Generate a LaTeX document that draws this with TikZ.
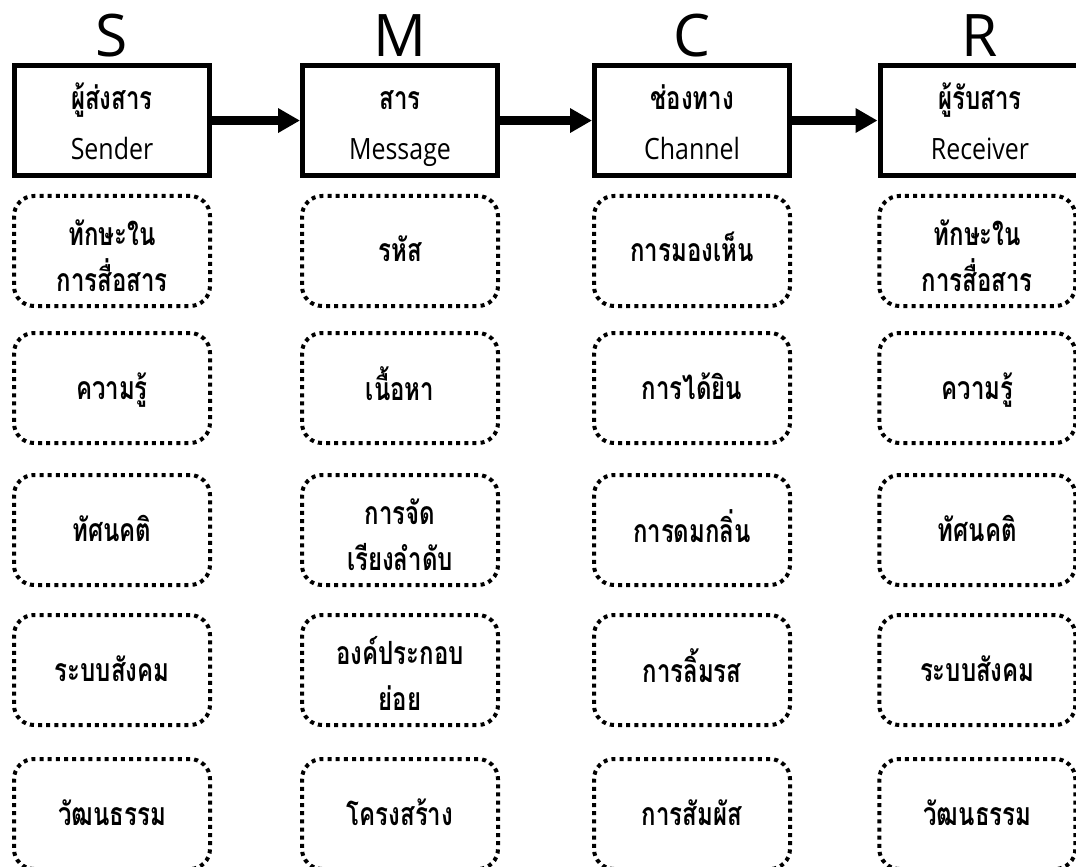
\documentclass[tikz,border=0pt]{standalone}
\usepackage{fontspec}
\setmainfont{Open Sans}
\newfontfamily\latfont[FakeStretch=0.85]{Open Sans}
\newfontfamily\thaifont[Script=Thai, FakeStretch=0.75]{Loma}
\usetikzlibrary{arrows.meta, positioning}
\newcommand{\hd}[2]{{\thaifont\bfseries\fontsize{24}{37.5}\selectfont\rule{0pt}{27.7pt}#1}\\%
  {\latfont\fontsize{22}{37.5}\selectfont#2\rule[-6pt]{0pt}{6pt}}}
\newcommand{\two}[2]{\rule{0pt}{32pt}#1\\#2}

\begin{document}
\begin{tikzpicture}[x=1pt, y=-1pt,
        hdr/.style={draw, line width=3.75pt, minimum width=146.25pt,
                    minimum height=82.5pt, align=center, inner sep=0pt,
                    font=\fontsize{22}{37.5}\selectfont},
        itm/.style={draw, line width=3pt, dash pattern=on 3pt off 3.1pt,
                    rounded corners=15pt, minimum width=147pt,
                    minimum height=82.5pt, align=center, inner sep=0pt,
                    font=\thaifont\bfseries\fontsize{24}{34.5}\selectfont,
                    execute at begin node={\rule{0pt}{23pt}},
                    execute at end node={\rule[-6.5pt]{0pt}{6.5pt}}},
        big/.style={anchor=base, font=\fontsize{44}{44}\selectfont},
        arr/.style={-{Triangle[length=16.5pt, width=17.5pt]}, line width=6.75pt},
      ]
        \useasboundingbox (0,0) rectangle (807,650.25);

        \node[hdr] (snd) at (84, 90.4)  {\hd{ผู้ส่งสาร}{Sender}};
        \node[hdr] (msg) at (300, 90.4) {\hd{สาร}{Message}};
        \node[hdr] (chn) at (519, 90.4) {\hd{ช่องทาง}{Channel}};
        \node[hdr, minimum width=150pt] (rcv) at (735, 90.4) {\hd{ผู้รับสาร}{Receiver}};

        \node[big] (ls) at (84, 42.75)  {S};
        \node[big] (lm) at (300, 42.75) {M};
        \node[big] (lc) at (519, 42.75) {C};
        \node[big] (lr) at (735, 42.75) {R};

        \draw[arr] (snd.east) -- (msg.west);
        \draw[arr] (msg.east) -- (chn.west);
        \draw[arr] (chn.east) -- (rcv.west);

        \foreach \i/\y/\txt in {1/188.25/{\two{ทักษะใน}{การสื่อสาร}}, 2/291/ความรู้,
                                3/397.5/ทัศนคติ, 4/502.5/ระบบสังคม, 5/610.5/วัฒนธรรม}
          \node[itm] (s\i) at (84, \y) {\txt};

        \foreach \i/\y/\txt in {1/188.25/รหัส, 2/291/เนื้อหา,
                                3/397.5/{\two{การจัด}{เรียงลำดับ}}, 4/502.5/{\two{องค์ประกอบ}{ย่อย}}, 5/610.5/โครงสร้าง}
          \node[itm] (m\i) at (300, \y) {\txt};

        \foreach \i/\y/\txt in {1/188.25/การมองเห็น, 2/291/การได้ยิน,
                                3/397.5/การดมกลิ่น, 4/502.5/การลิ้มรส, 5/610.5/การสัมผัส}
          \node[itm] (c\i) at (519, \y) {\txt};

        \foreach \i/\y/\txt in {1/188.25/{\two{ทักษะใน}{การสื่อสาร}}, 2/291/ความรู้,
                                3/397.5/ทัศนคติ, 4/502.5/ระบบสังคม, 5/610.5/วัฒนธรรม}
          \node[itm] (r\i) at (733, \y) {\txt};
      \end{tikzpicture}
\end{document}
